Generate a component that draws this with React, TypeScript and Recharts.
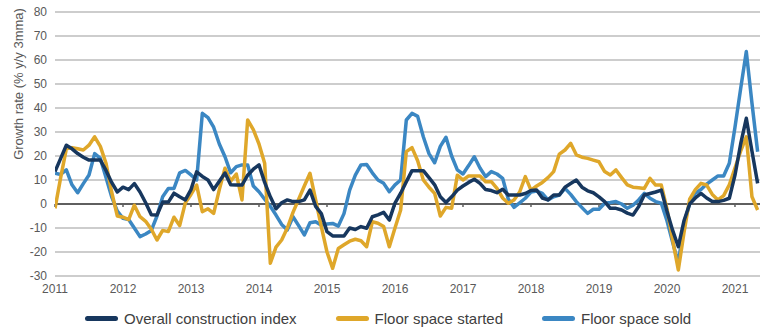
import React from "react";
import {
  LineChart,
  Line,
  XAxis,
  YAxis,
  CartesianGrid,
  ReferenceLine,
  Legend,
} from "recharts";

// monthly, Jan 2011 .. May 2021
const START_YEAR = 2011;

const overallIndex = [
  13.5, 19, 24.5, 23, 21, 19.5, 18.3, 18.3, 18.3, 14,
  9, 5, 7, 6, 8.5, 5, 0.5, -4.5, -4.6, 0.8,
  0.8, 4.5, 3, 1.7, 6, 13.4, 11.5, 10, 6, 9.5,
  12.9, 8, 7.9, 7.9, 12, 14.5, 16.3, 9, 3, -2,
  0.5, 1.7, 1, 1, 1.7, 5.8, -1, -4, -11.5, -13.3,
  -13.3, -13.3, -10, -10.6, -9.4, -10.1, -5.3, -4.5, -3.5, -6.7,
  0.4, 4.5, 9.3, 13.9, 13.9, 13.9, 11, 8, 3, 0.6,
  3, 5.8, 7.5, 9, 10.3, 8.6, 6, 5.6, 4.7, 6.1,
  3.75, 3.75, 3.75, 4.4, 5.6, 5.8, 2.5, 1.7, 3.75, 3.75,
  7, 8.5, 10, 7, 5.5, 4.7, 3, 1, -1.8, -1.8,
  -2.5, -3.8, -4.6, -1.1, 3.75, 4.4, 5, 5.8, -3, -11,
  -17.8, -7, 0, 2.5, 4.4, 2.5, 1, 1, 1.5, 2.4,
  12, 25, 35.7, 22, 8.6,
];

const floorStarted = [
  -1.8, 11, 23, 23.5, 23, 22.5, 24.5, 28, 24, 17,
  5, -5, -5.5, -6.5, -0.5, -5.3, -7.2, -10.5, -15, -11,
  -11.5, -5.5, -9, 0.5, 4, 7.9, -3.2, -2, -3.9, 6,
  14.9, 9.5, 12.5, 1.7, 35, 31, 25, 17, -24.7, -18,
  -15, -10, -3.5, 2, 7.5, 12.8, 1.7, -9.4, -20, -26.8,
  -18.5, -17, -15.5, -14.7, -15.3, -17.8, -7.4, -8, -9.4, -17.8,
  -10, -2.5, 21.8, 23.5, 18, 10, 7, 4.4, -5, -1.4,
  -1.8, 12, 10, 11.7, 11.7, 11.7, 9.3, 9.3, 6.5, 2.5,
  0.3, 1.7, 5, 11.4, 5.8, 7.5, 9, 11, 13.5, 20.8,
  22.5, 25.3, 20.5, 19.5, 19, 18.3, 17.6, 13.5, 12.1, 14.2,
  11, 8, 7, 6.8, 6.5, 10.7, 7.9, 7.9, -2, -15,
  -27.5, -12, 2, 6, 8.6, 7.9, 4, 1.7, 3.5, 8,
  15, 22, 28, 3, -2.5,
];

const floorSold = [
  12.8, 12.3, 14.2, 8, 4.7, 8.5, 12.1, 21, 19, 11,
  3, -3, -6, -6.5, -10, -13.6, -12.5, -11, -5, 3,
  6.5, 6.5, 13, 14, 12.1, 10, 37.8, 36, 32, 25,
  19.7, 13, 15.6, 16.3, 16.3, 7.5, 5.1, 2, -1, -4.6,
  -8.5, -10.8, -5.3, -9, -12.9, -7.8, -7.4, -8.8, -8.3, -8.1,
  -9.2, -4, 5.8, 12, 16.3, 16.5, 13, 10, 8.6, 5.1,
  8, 10, 35, 37.8, 36.5, 28, 21, 17.2, 24, 27.8,
  20, 14.2, 12.5, 16, 19.7, 15, 11.4, 13.5, 12.5, 10.7,
  2, -1.4, 0.5, 2.4, 5, 5.4, 4.4, 1.7, 3, 3.75,
  6.5, 4, 1, -1.5, -3.9, -2.2, -2.2, 0.3, 0.6, 1,
  0, -1.8, -0.5, 1.7, 4.4, 2.4, 1, 0.3, -7, -16,
  -24.7, -8, 0, 4.5, 6, 8.3, 10, 11.7, 11.7, 17,
  32, 48, 63.5, 42, 21.8,
];

const yearTicks = [2011, 2012, 2013, 2014, 2015, 2016, 2017, 2018, 2019, 2020, 2021];
const yTicks = [-30, -20, -10, 0, 10, 20, 30, 40, 50, 60, 70, 80];

const series = [
  { key: "overall", name: "Overall construction index", color: "#17375e" },
  { key: "started", name: "Floor space started", color: "#dfa72a" },
  { key: "sold", name: "Floor space sold", color: "#3b87c3" },
];

const data = overallIndex.map((v, i) => ({
  t: START_YEAR + i / 12,
  overall: v,
  started: floorStarted[i],
  sold: floorSold[i],
}));

const FONT = "'Liberation Sans', Arial, Helvetica, sans-serif";

function YLabel() {
  return (
    <text
      x={18}
      y={84}
      transform="rotate(-90 18 84)"
      textAnchor="middle"
      dominantBaseline="central"
      fontSize={13}
      fontFamily={FONT}
      fill="#595959"
    >
      Growth rate (% y/y 3mma)
    </text>
  );
}

function LegendContent() {
  return (
    <div
      style={{
        display: "flex",
        alignItems: "center",
        height: 36,
        paddingLeft: 85,
        fontFamily: FONT,
        fontSize: 15,
        color: "#404040",
      }}
    >
      {series.map((s) => (
        <div key={s.key} style={{ display: "flex", alignItems: "center", marginRight: 39 }}>
          <span
            style={{
              display: "inline-block",
              width: 33,
              height: 5,
              borderRadius: 3,
              background: s.color,
              marginRight: 6,
            }}
          />
          <span>{s.name}</span>
        </div>
      ))}
    </div>
  );
}

export default function App() {
  return (
    <div style={{ position: "absolute", left: 0, top: 0, width: 770, height: 336, background: "#fff" }}>
      <LineChart
        width={770}
        height={336}
        data={data}
        margin={{ top: 12, right: 10, left: 0, bottom: 0 }}
      >
        <CartesianGrid vertical={false} stroke="#bdbdbd" strokeWidth={1.5} />
        <XAxis
          dataKey="t"
          type="number"
          domain={[2011, 2021.368]}
          ticks={yearTicks}
          allowDataOverflow
          axisLine={false}
          tickLine={false}
          height={24}
          tick={{ fill: "#595959", fontSize: 12, fontFamily: FONT }}
        />
        <YAxis
          domain={[-30, 80]}
          ticks={yTicks}
          width={55}
          axisLine={false}
          tickLine={false}
          tick={{ fill: "#595959", fontSize: 12, fontFamily: FONT }}
          label={<YLabel />}
        />
        <ReferenceLine y={0} stroke="#5f5f5f" strokeWidth={2} />
        {yearTicks.map((yr) => (
          <ReferenceLine
            key={yr}
            segment={[
              { x: yr, y: 0 },
              { x: yr, y: -1.3 },
            ]}
            stroke="#5f5f5f"
            strokeWidth={1.5}
          />
        ))}
        <Line
          dataKey="sold"
          name="Floor space sold"
          stroke="#3b87c3"
          strokeWidth={3.5}
          dot={false}
          strokeLinejoin="round"
          isAnimationActive={false}
        />
        <Line
          dataKey="started"
          name="Floor space started"
          stroke="#dfa72a"
          strokeWidth={3.5}
          dot={false}
          strokeLinejoin="round"
          isAnimationActive={false}
        />
        <Line
          dataKey="overall"
          name="Overall construction index"
          stroke="#17375e"
          strokeWidth={3.5}
          dot={false}
          strokeLinejoin="round"
          isAnimationActive={false}
        />
        <Legend
          verticalAlign="bottom"
          content={<LegendContent />}
          wrapperStyle={{ left: 0, width: 770, height: 36 }}
        />
      </LineChart>
    </div>
  );
}
